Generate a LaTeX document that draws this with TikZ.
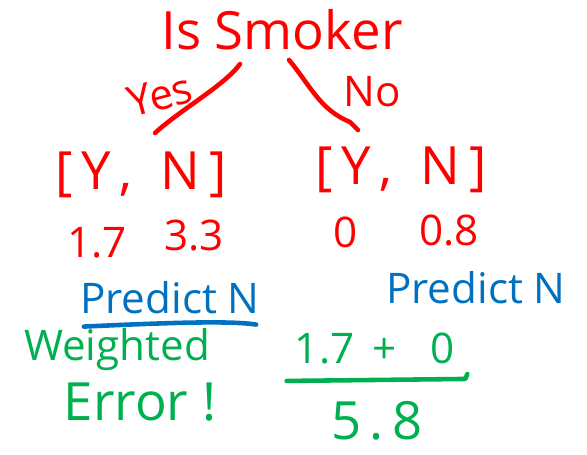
\documentclass[tikz,border=0pt]{standalone}
\usepackage{fontspec}
\setmainfont{Open Sans}
\usetikzlibrary{positioning,calc}
\definecolor{inkred}{RGB}{255,0,0}
\definecolor{inkblue}{RGB}{0,112,192}
\definecolor{inkgreen}{RGB}{0,176,80}
\tikzset{
  redtxt/.style={text=inkred,inner sep=0pt},
  bluetxt/.style={text=inkblue,inner sep=0pt},
  greentxt/.style={text=inkgreen,inner sep=0pt},
  pen/.style={line width=2.6pt,line cap=round,line join=round},
  big/.style={font=\fontsize{30}{32}\selectfont},
  mid/.style={font=\fontsize{24}{26}\selectfont}
}
\begin{document}
\begin{tikzpicture}[x=0.02cm,y=-0.02cm]
  \useasboundingbox (0,0) rectangle (587,454);
  % root question
  \node[redtxt,big] (root) at (282,30) {Is Smoker};
  \coordinate (yestop) at (240,64);
  \coordinate (yesend) at (155,133);
  \coordinate (notop) at (289,60);
  \coordinate (noend) at (358,130);
  \draw[pen,inkred] (yestop) .. controls (225,85) and (180,110) .. (yesend);
  \draw[pen,inkred] (notop) .. controls (310,85) and (320,110) .. (350,122) -- (noend);
  \node[redtxt,mid,rotate=15] (yeslab) at (160,95) {Yes};
  \node[redtxt,mid] (nolab) at (372,92) {No};
  % counts
  \node[redtxt,big] (leftcnt) at (141,175) {[\,Y\,,\; N\,]};
  \node[redtxt,big] (rightcnt) at (401,170) {[\,Y\,,\; N\,]};
  \node[redtxt,mid] (leftY) at (97,243) {1.7};
  \node[redtxt,mid] (leftN) at (194,236) {3.3};
  \node[redtxt,mid] (rightY) at (346,232) {0};
  \node[redtxt,mid] (rightN) at (449,230) {0.8};
  % predictions
  \node[bluetxt,mid] (leftpred) at (170,298) {Predict N};
  \node[bluetxt,mid] (rightpred) at (476,288) {Predict N};
  \draw[pen,inkblue] ($(leftpred.south west)+(4,12)$) .. controls ($(leftpred.south)+(0,8)$) and ($(leftpred.south east)+(-30,6)$) .. ($(leftpred.south east)+(-4,10)$);
  % weighted error
  \node[greentxt,mid] (werr) at (117,350) {Weighted};
  \node[greentxt,big] (err) at (140,402) {Error !};
  \node[greentxt,mid] (numer) at (375,348) {1.7\, +\;\; 0};
  \node[greentxt,big] (denom) at (377,421) {5\,.\,8};
  \draw[pen,inkgreen] ($(numer.south west)+(-8,17)$) -- ($(numer.south east)+(10,15)$) -- ($(numer.south east)+(12,10)$);
\end{tikzpicture}
\end{document}
